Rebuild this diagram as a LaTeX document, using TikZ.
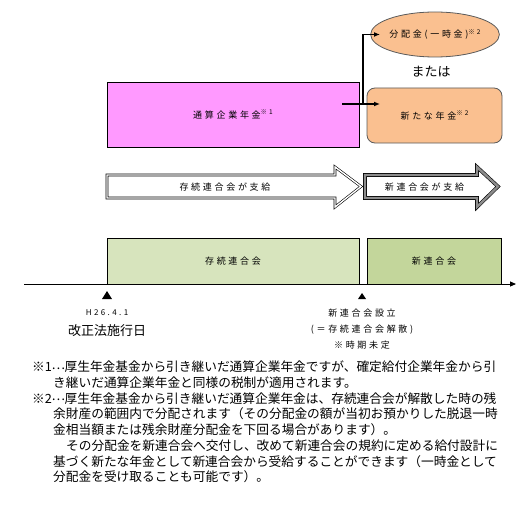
\documentclass[tikz,border=0pt]{standalone}
\usepackage{fontspec}
\usetikzlibrary{shapes.geometric,arrows.meta}
\newfontfamily\jp{Noto Sans CJK JP}
\newfontfamily\jpsp[LetterSpace=30]{Noto Sans CJK JP}
\definecolor{pinkc}{HTML}{FF99FF}
\definecolor{peach}{HTML}{FAC090}
\definecolor{greena}{HTML}{D7E4BD}
\definecolor{greenb}{HTML}{C3D69B}
\definecolor{bord}{HTML}{5A5A5A}
\newcommand\smk[1]{\raisebox{3.5pt}{\fontsize{6.5}{7}\selectfont #1}}
\newcommand\tdots{\makebox[1em][c]{\raisebox{0.22em}{…}}}
\tikzset{
  lbl/.style={inner sep=0pt,font=\jpsp\fontsize{9}{10}\selectfont},
  boxs/.style={draw=black,line width=0.8pt,inner sep=0pt,font=\jpsp\fontsize{9}{10}\selectfont},
  conn/.style={line width=1.2pt,-{Latex[length=6pt,width=5pt]}},
  note/.style={inner sep=0pt,anchor=west,font=\jp\fontsize{12.7}{14}\selectfont},
  tri/.style={fill=black}
}
\begin{document}
\begin{tikzpicture}[x=1pt,y=-1pt]
\path[use as bounding box] (0,0) rectangle (520,524);
% pink box
\node[boxs,fill=pinkc,minimum width=252pt,minimum height=65pt] (tsu) at (233,114.5) {通算企業年金\smk{※1}};
% ellipse
\node[ellipse,draw=bord,line width=0.8pt,fill=peach,minimum width=128pt,minimum height=45pt,inner sep=0pt,font=\jpsp\fontsize{9}{10}\selectfont] (bun) at (435,34.5) {分配金(一時金)\smk{※2}};
\node[inner sep=0pt,font=\jp\fontsize{13}{14}\selectfont] (mata) at (431,72) {または};
% rounded box
\node[draw=bord,line width=0.8pt,fill=peach,rounded corners=8pt,minimum width=135pt,minimum height=55pt,inner sep=0pt,font=\jpsp\fontsize{9}{10}\selectfont] (nen) at (434.5,115.5) {新たな年金\smk{※2}};
% connectors
\coordinate (p0) at (342,104);
\coordinate (p1) at (363,104);
\coordinate (p2) at (380,104);
\coordinate (q1) at (363,34.5);
\coordinate (q2) at (380,34.5);
\draw[conn] (p0) -- (p2);
\draw[conn] (p1) -- (q1) -- (q2);
% big arrows
\draw[draw=black,line width=0.6pt,double=white,double distance=1.4pt,fill=white,line join=miter]
  (107,175) -- (335,175) -- (335,167) -- (361,186.5) -- (335,207) -- (335,198) -- (107,198) -- cycle;
\node[lbl] (arr1) at (225,187) {存続連合会が支給};
\draw[draw=black,line width=0.6pt,double=gray!90,double distance=2.4pt,fill=white,line join=miter]
  (365,175) -- (477,175) -- (477,167) -- (498,186.5) -- (477,207) -- (477,198) -- (365,198) -- cycle;
\node[lbl] (arr2) at (424.5,187) {新連合会が支給};
% green boxes
\node[boxs,fill=greena,minimum width=252pt,minimum height=46pt] (son) at (233,261) {存続連合会};
\node[boxs,fill=greenb,minimum width=134pt,minimum height=46pt] (shin) at (434,261) {新連合会};
% timeline
\coordinate (t0) at (24,284);
\coordinate (t1) at (516,284);
\draw[line width=0.9pt,-{Triangle[length=6pt,width=5pt]}] (t0) -- (t1);
\fill[tri] (107,291) -- (112,299) -- (102,299) -- cycle;
\fill[tri] (362,293) -- (366,299) -- (358,299) -- cycle;
\node[inner sep=0pt,font=\jpsp\fontsize{8}{9}\selectfont] (h26) at (107,313) {H26.4.1};
\node[inner sep=0pt,font=\jp\fontsize{13}{14}\selectfont] (kai) at (107,330.5) {改正法施行日};
\node[lbl] (sets) at (362,313) {新連合会設立};
\node[lbl] (kais) at (362,330) {(＝存続連合会解散)};
\node[lbl] (jiki) at (362,345) {※時期未定};
% notes
\node[note] (n1) at (32,367) {※1\tdots 厚生年金基金から引き継いだ通算企業年金ですが、確定給付企業年金から引};
\node[note] (n2) at (53,382.7) {き継いだ通算企業年金と同様の税制が適用されます。};
\node[note] (n3) at (32,398.4) {※2\tdots 厚生年金基金から引き継いだ通算企業年金は、存続連合会が解散した時の残};
\node[note] (n4) at (53,414.1) {余財産の範囲内で分配されます（その分配金の額が当初お預かりした脱退一時};
\node[note] (n5) at (53,429.8) {金相当額または残余財産分配金を下回る場合があります）。};
\node[note] (n6) at (66,445.5) {その分配金を新連合会へ交付し、改めて新連合会の規約に定める給付設計に};
\node[note] (n7) at (53,461.2) {基づく新たな年金として新連合会から受給することができます（一時金として};
\node[note] (n8) at (53,476.9) {分配金を受け取ることも可能です）。};
\end{tikzpicture}
\end{document}
